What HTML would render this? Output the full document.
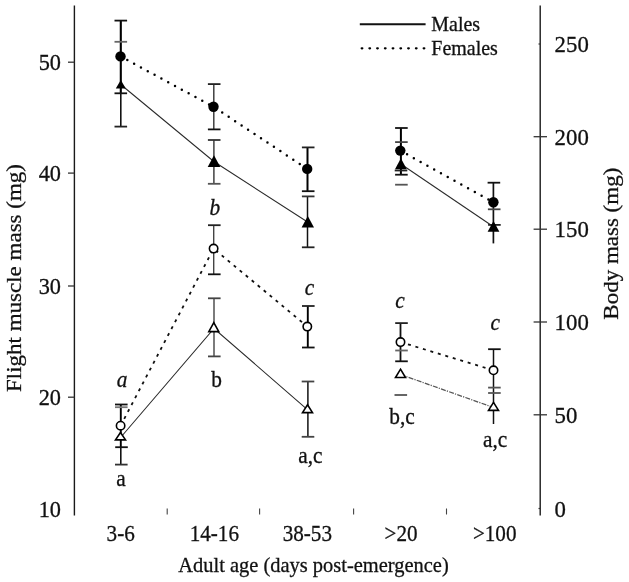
<!DOCTYPE html>
<html><head><meta charset="utf-8"><title>Flight muscle mass chart</title>
<style>html,body{margin:0;padding:0;background:#fff;}svg{display:block;filter:blur(0.3px);}</style>
</head><body>
<svg width="629" height="582" viewBox="0 0 629 582" font-family='"Liberation Serif", serif'>
<line x1="74.4" y1="5.5" x2="74.4" y2="515.5" stroke="#1a1a1a" stroke-width="1.4"/>
<line x1="540.2" y1="5.5" x2="540.2" y2="515.5" stroke="#1a1a1a" stroke-width="1.4"/>
<line x1="68" y1="62.2" x2="74.4" y2="62.2" stroke="#333" stroke-width="1.3"/>
<line x1="68" y1="173.1" x2="74.4" y2="173.1" stroke="#333" stroke-width="1.3"/>
<line x1="68" y1="286.0" x2="74.4" y2="286.0" stroke="#333" stroke-width="1.3"/>
<line x1="68" y1="397.2" x2="74.4" y2="397.2" stroke="#333" stroke-width="1.3"/>
<line x1="533.6" y1="136.7" x2="547" y2="136.7" stroke="#333" stroke-width="1.3"/>
<line x1="533.6" y1="229.2" x2="547" y2="229.2" stroke="#333" stroke-width="1.3"/>
<line x1="533.6" y1="322.0" x2="547" y2="322.0" stroke="#333" stroke-width="1.3"/>
<line x1="533.6" y1="414.8" x2="547" y2="414.8" stroke="#333" stroke-width="1.3"/>
<line x1="538.5" y1="44.0" x2="540.5" y2="44.0" stroke="#333" stroke-width="1.2"/>
<line x1="538.5" y1="508.5" x2="540.5" y2="508.5" stroke="#333" stroke-width="1.2"/>
<line x1="167.2" y1="508.5" x2="167.2" y2="514.5" stroke="#444" stroke-width="1.1"/>
<line x1="259.6" y1="508.5" x2="259.6" y2="514.5" stroke="#444" stroke-width="1.1"/>
<line x1="353.6" y1="508.5" x2="353.6" y2="514.5" stroke="#444" stroke-width="1.1"/>
<line x1="446.5" y1="508.5" x2="446.5" y2="514.5" stroke="#444" stroke-width="1.1"/>
<text transform="translate(61.0,70.2) scale(0.95,1)" text-anchor="end" font-size="23.5" fill="#111" stroke="#111" stroke-width="0.3">50</text>
<text transform="translate(61.0,181.1) scale(0.95,1)" text-anchor="end" font-size="23.5" fill="#111" stroke="#111" stroke-width="0.3">40</text>
<text transform="translate(61.0,294.0) scale(0.95,1)" text-anchor="end" font-size="23.5" fill="#111" stroke="#111" stroke-width="0.3">30</text>
<text transform="translate(61.0,405.2) scale(0.95,1)" text-anchor="end" font-size="23.5" fill="#111" stroke="#111" stroke-width="0.3">20</text>
<text transform="translate(61.0,516.5) scale(0.95,1)" text-anchor="end" font-size="23.5" fill="#111" stroke="#111" stroke-width="0.3">10</text>
<text transform="translate(554.6,52.0) scale(0.97,1)" text-anchor="start" font-size="23.5" fill="#111" stroke="#111" stroke-width="0.3">250</text>
<text transform="translate(554.6,144.7) scale(0.97,1)" text-anchor="start" font-size="23.5" fill="#111" stroke="#111" stroke-width="0.3">200</text>
<text transform="translate(554.6,237.2) scale(0.97,1)" text-anchor="start" font-size="23.5" fill="#111" stroke="#111" stroke-width="0.3">150</text>
<text transform="translate(554.6,330.0) scale(0.97,1)" text-anchor="start" font-size="23.5" fill="#111" stroke="#111" stroke-width="0.3">100</text>
<text transform="translate(554.6,422.8) scale(0.97,1)" text-anchor="start" font-size="23.5" fill="#111" stroke="#111" stroke-width="0.3">50</text>
<text transform="translate(554.6,516.5) scale(0.97,1)" text-anchor="start" font-size="23.5" fill="#111" stroke="#111" stroke-width="0.3">0</text>
<text transform="translate(120.7,541.0) scale(0.9,1)" text-anchor="middle" font-size="23.5" fill="#111" stroke="#111" stroke-width="0.3">3-6</text>
<text transform="translate(214.3,541.0) scale(0.9,1)" text-anchor="middle" font-size="23.5" fill="#111" stroke="#111" stroke-width="0.3">14-16</text>
<text transform="translate(307.3,541.0) scale(0.9,1)" text-anchor="middle" font-size="23.5" fill="#111" stroke="#111" stroke-width="0.3">38-53</text>
<text transform="translate(401.0,541.0) scale(0.9,1)" text-anchor="middle" font-size="23.5" fill="#111" stroke="#111" stroke-width="0.3">&gt;20</text>
<text transform="translate(494.7,541.0) scale(0.9,1)" text-anchor="middle" font-size="23.5" fill="#111" stroke="#111" stroke-width="0.3">&gt;100</text>
<text transform="translate(313.5,571.6) scale(0.93,1)" text-anchor="middle" font-size="22" fill="#111" stroke="#111" stroke-width="0.3">Adult age (days post-emergence)</text>
<text transform="translate(21,278) scale(0.95,1) rotate(-90)" text-anchor="middle" font-size="23" fill="#111" stroke="#111" stroke-width="0.3">Flight muscle mass (mg)</text>
<text transform="translate(618.3,243.7) scale(0.95,1) rotate(-90)" text-anchor="middle" font-size="23" fill="#111" stroke="#111" stroke-width="0.3">Body mass (mg)</text>
<line x1="359.8" y1="24.3" x2="425.6" y2="24.3" stroke="#111" stroke-width="2"/>
<line x1="361.7" y1="48.3" x2="426" y2="48.3" stroke="#000" stroke-width="2.3" stroke-linecap="round" stroke-dasharray="0.6 7.15"/>
<text transform="translate(431.3,30.8) scale(0.975,1)" text-anchor="start" font-size="20.5" fill="#111" stroke="#111" stroke-width="0.3">Males</text>
<text transform="translate(431.3,54.6) scale(0.975,1)" text-anchor="start" font-size="20.5" fill="#111" stroke="#111" stroke-width="0.3">Females</text>
<text transform="translate(122,387) scale(0.95,1)" text-anchor="middle" font-size="22.5" font-style="italic" fill="#111" stroke="#111" stroke-width="0.3">a</text>
<text transform="translate(121,486.3) scale(0.95,1)" text-anchor="middle" font-size="22.5" fill="#111" stroke="#111" stroke-width="0.3">a</text>
<text transform="translate(214.8,215) scale(0.95,1)" text-anchor="middle" font-size="22.5" font-style="italic" fill="#111" stroke="#111" stroke-width="0.3">b</text>
<text transform="translate(216.5,387) scale(0.95,1)" text-anchor="middle" font-size="22.5" fill="#111" stroke="#111" stroke-width="0.3">b</text>
<text transform="translate(309.6,295.3) scale(0.95,1)" text-anchor="middle" font-size="22.5" font-style="italic" fill="#111" stroke="#111" stroke-width="0.3">c</text>
<text transform="translate(310.4,463.3) scale(0.95,1)" text-anchor="middle" font-size="22.5" fill="#111" stroke="#111" stroke-width="0.3">a,c</text>
<text transform="translate(400,307.6) scale(0.95,1)" text-anchor="middle" font-size="22.5" font-style="italic" fill="#111" stroke="#111" stroke-width="0.3">c</text>
<text transform="translate(402,424) scale(0.95,1)" text-anchor="middle" font-size="22.5" fill="#111" stroke="#111" stroke-width="0.3">b,c</text>
<text transform="translate(495.3,330.3) scale(0.95,1)" text-anchor="middle" font-size="22.5" font-style="italic" fill="#111" stroke="#111" stroke-width="0.3">c</text>
<text transform="translate(495.1,446.5) scale(0.95,1)" text-anchor="middle" font-size="22.5" fill="#111" stroke="#111" stroke-width="0.3">a,c</text>
<polyline points="120.7,84.5 213.8,161.5 307.6,222.0" fill="none" stroke="#2a2a2a" stroke-width="1.05"/>
<polyline points="400.8,164.0 493.5,226.8" fill="none" stroke="#2a2a2a" stroke-width="1.05"/>
<polyline points="120.6,437.5 214.0,328.5 307.7,409.8" fill="none" stroke="#2a2a2a" stroke-width="1.05"/>
<polyline points="400.5,374.5 493.5,407.5" fill="none" stroke="#555" stroke-width="1.25" stroke-dasharray="5 1.2 1.2 1.2"/>
<polyline points="120.5,56.4 213.5,106.8 307.2,168.9" fill="none" stroke="#000" stroke-width="2.5" stroke-linecap="round" stroke-dasharray="0 7.75"/>
<polyline points="400.3,150.6 493.4,202.3" fill="none" stroke="#000" stroke-width="2.5" stroke-linecap="round" stroke-dasharray="0 7.75"/>
<polyline points="120.6,425.7 213.6,248.6 307.4,326.6" fill="none" stroke="#111" stroke-width="1.8" stroke-dasharray="3 4.8"/>
<polyline points="400.5,342.1 493.5,370.3" fill="none" stroke="#111" stroke-width="1.8" stroke-dasharray="3 4.8"/>
<line x1="120.8" y1="20.6" x2="120.8" y2="93.3" stroke="#000" stroke-width="2.1"/>
<line x1="120.8" y1="93.3" x2="120.8" y2="126.6" stroke="#111" stroke-width="1.6"/>
<line x1="213.8" y1="84.1" x2="213.8" y2="129.4" stroke="#333" stroke-width="1.4"/>
<line x1="213.9" y1="140.0" x2="213.9" y2="183.8" stroke="#333" stroke-width="1.4"/>
<line x1="307.5" y1="147.4" x2="307.5" y2="191.2" stroke="#000" stroke-width="2.0"/>
<line x1="307.5" y1="196.4" x2="307.5" y2="247.3" stroke="#111" stroke-width="1.5"/>
<line x1="400.9" y1="128.0" x2="400.9" y2="174.7" stroke="#000" stroke-width="2.0"/>
<line x1="493.4" y1="182.7" x2="493.4" y2="243.4" stroke="#111" stroke-width="1.7"/>
<line x1="120.8" y1="404.5" x2="120.8" y2="447.2" stroke="#000" stroke-width="1.9"/>
<line x1="120.8" y1="447.2" x2="120.8" y2="464.6" stroke="#111" stroke-width="1.6"/>
<line x1="213.7" y1="225.2" x2="213.7" y2="274.3" stroke="#444" stroke-width="1.4"/>
<line x1="214.0" y1="298.3" x2="214.0" y2="356.4" stroke="#444" stroke-width="1.4"/>
<line x1="307.8" y1="306.0" x2="307.8" y2="347.5" stroke="#000" stroke-width="1.9"/>
<line x1="307.9" y1="381.5" x2="307.9" y2="436.8" stroke="#111" stroke-width="1.5"/>
<line x1="400.5" y1="323.1" x2="400.5" y2="361.3" stroke="#111" stroke-width="1.8"/>
<line x1="493.5" y1="349.2" x2="493.5" y2="424.0" stroke="#111" stroke-width="1.5"/>
<line x1="114.5" y1="20.6" x2="127.1" y2="20.6" stroke="#111" stroke-width="1.8"/>
<line x1="114.5" y1="41.8" x2="127.1" y2="41.8" stroke="#666" stroke-width="1.8"/>
<line x1="114.5" y1="93.3" x2="127.1" y2="93.3" stroke="#111" stroke-width="1.8"/>
<line x1="114.5" y1="126.6" x2="127.1" y2="126.6" stroke="#222" stroke-width="1.8"/>
<line x1="207.89999999999998" y1="84.1" x2="220.5" y2="84.1" stroke="#222" stroke-width="1.8"/>
<line x1="207.89999999999998" y1="129.4" x2="220.5" y2="129.4" stroke="#111" stroke-width="1.8"/>
<line x1="207.89999999999998" y1="140.0" x2="220.5" y2="140.0" stroke="#333" stroke-width="1.8"/>
<line x1="207.89999999999998" y1="183.8" x2="220.5" y2="183.8" stroke="#555" stroke-width="1.8"/>
<line x1="301.9" y1="147.4" x2="314.5" y2="147.4" stroke="#222" stroke-width="1.8"/>
<line x1="301.9" y1="191.2" x2="314.5" y2="191.2" stroke="#111" stroke-width="1.8"/>
<line x1="301.9" y1="196.4" x2="314.5" y2="196.4" stroke="#333" stroke-width="1.8"/>
<line x1="301.9" y1="247.3" x2="314.5" y2="247.3" stroke="#222" stroke-width="1.8"/>
<line x1="395.09999999999997" y1="128.0" x2="407.7" y2="128.0" stroke="#111" stroke-width="1.8"/>
<line x1="395.09999999999997" y1="142.1" x2="407.7" y2="142.1" stroke="#444" stroke-width="1.8"/>
<line x1="395.09999999999997" y1="174.7" x2="407.7" y2="174.7" stroke="#111" stroke-width="1.8"/>
<line x1="395.09999999999997" y1="184.7" x2="407.7" y2="184.7" stroke="#555" stroke-width="1.8"/>
<line x1="394.7" y1="170.5" x2="407.3" y2="170.5" stroke="#222" stroke-width="1.8"/>
<line x1="487.59999999999997" y1="182.7" x2="500.2" y2="182.7" stroke="#111" stroke-width="1.8"/>
<line x1="487.9" y1="209.3" x2="500.5" y2="209.3" stroke="#444" stroke-width="1.8"/>
<line x1="488.09999999999997" y1="224.9" x2="500.7" y2="224.9" stroke="#222" stroke-width="1.8"/>
<line x1="115.0" y1="404.5" x2="127.6" y2="404.5" stroke="#111" stroke-width="1.8"/>
<line x1="115.0" y1="407.2" x2="127.6" y2="407.2" stroke="#777" stroke-width="1.8"/>
<line x1="115.2" y1="447.2" x2="127.8" y2="447.2" stroke="#111" stroke-width="1.8"/>
<line x1="115.0" y1="464.6" x2="127.6" y2="464.6" stroke="#333" stroke-width="1.8"/>
<line x1="208.0" y1="225.2" x2="220.60000000000002" y2="225.2" stroke="#222" stroke-width="1.8"/>
<line x1="208.0" y1="274.3" x2="220.60000000000002" y2="274.3" stroke="#111" stroke-width="1.8"/>
<line x1="208.0" y1="298.3" x2="220.60000000000002" y2="298.3" stroke="#444" stroke-width="1.8"/>
<line x1="208.0" y1="356.4" x2="220.60000000000002" y2="356.4" stroke="#444" stroke-width="1.8"/>
<line x1="302.0" y1="306.0" x2="314.6" y2="306.0" stroke="#222" stroke-width="1.8"/>
<line x1="302.0" y1="347.5" x2="314.6" y2="347.5" stroke="#111" stroke-width="1.8"/>
<line x1="301.7" y1="381.5" x2="314.3" y2="381.5" stroke="#444" stroke-width="1.8"/>
<line x1="301.7" y1="436.8" x2="314.3" y2="436.8" stroke="#444" stroke-width="1.8"/>
<line x1="395.2" y1="323.1" x2="407.8" y2="323.1" stroke="#222" stroke-width="1.8"/>
<line x1="395.2" y1="350.5" x2="407.8" y2="350.5" stroke="#666" stroke-width="1.8"/>
<line x1="395.2" y1="361.3" x2="407.8" y2="361.3" stroke="#111" stroke-width="1.8"/>
<line x1="394.5" y1="395.0" x2="407.1" y2="395.0" stroke="#555" stroke-width="1.8"/>
<line x1="488.09999999999997" y1="349.2" x2="500.7" y2="349.2" stroke="#111" stroke-width="1.8"/>
<line x1="488.09999999999997" y1="387.6" x2="500.7" y2="387.6" stroke="#555" stroke-width="1.8"/>
<line x1="488.09999999999997" y1="393.0" x2="500.7" y2="393.0" stroke="#555" stroke-width="1.8"/>
<circle cx="120.5" cy="56.4" r="5.2" fill="#000"/>
<circle cx="213.5" cy="106.8" r="5.2" fill="#000"/>
<circle cx="307.2" cy="168.9" r="5.2" fill="#000"/>
<circle cx="400.3" cy="150.6" r="5.2" fill="#000"/>
<circle cx="493.4" cy="202.3" r="5.2" fill="#000"/>
<polygon points="120.8,80.0 125.8,88.6 115.8,88.6" fill="#000"/>
<polygon points="214.0,155.3 220.3,167.0 207.7,167.0" fill="#000"/>
<polygon points="307.8,216.0 314.0,227.4 301.6,227.4" fill="#000"/>
<polygon points="400.9,158.3 406.79999999999995,169.3 395.0,169.3" fill="#000"/>
<polygon points="493.5,221.0 499.4,231.8 487.6,231.8" fill="#000"/>
<circle cx="120.6" cy="425.7" r="4.2" fill="#fff" stroke="#000" stroke-width="1.6"/>
<circle cx="213.6" cy="248.6" r="4.2" fill="#fff" stroke="#000" stroke-width="1.6"/>
<circle cx="307.3" cy="326.6" r="4.2" fill="#fff" stroke="#000" stroke-width="1.6"/>
<circle cx="400.5" cy="342.1" r="4.2" fill="#fff" stroke="#000" stroke-width="1.6"/>
<circle cx="493.5" cy="370.3" r="4.2" fill="#fff" stroke="#000" stroke-width="1.6"/>
<polygon points="120.5,432.5 125.5,439.9 115.5,439.9" fill="#fff" stroke="#000" stroke-width="1.6" stroke-linejoin="miter"/>
<polygon points="213.8,322.6 218.8,331.59999999999997 208.8,331.59999999999997" fill="#fff" stroke="#000" stroke-width="1.6" stroke-linejoin="miter"/>
<polygon points="307.5,404.7 312.5,412.59999999999997 302.5,412.59999999999997" fill="#fff" stroke="#000" stroke-width="1.6" stroke-linejoin="miter"/>
<polygon points="400.5,369.2 405.5,377.5 395.5,377.5" fill="#fff" stroke="#000" stroke-width="1.6" stroke-linejoin="miter"/>
<polygon points="493.5,402.40000000000003 498.5,410.4 488.5,410.4" fill="#fff" stroke="#000" stroke-width="1.6" stroke-linejoin="miter"/>
</svg>
</body></html>
